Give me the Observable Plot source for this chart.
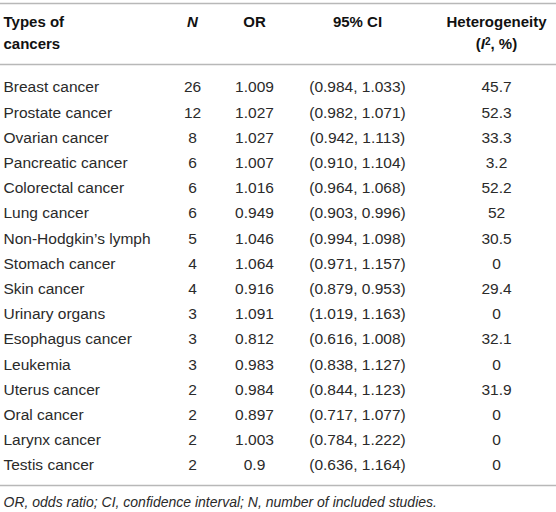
<!DOCTYPE html>
<html>
<head>
<meta charset="utf-8">
<script src="https://cdn.jsdelivr.net/npm/d3@7"></script>
<script src="https://cdn.jsdelivr.net/npm/@observablehq/plot@0.6"></script>
<style>
  html, body { margin: 0; padding: 0; background: #fff; }
  #chart svg { display: block; }
</style>
</head>
<body>
<div id="chart"></div>
<script>
// ---- data ----
const cancers = ["Breast cancer","Prostate cancer","Ovarian cancer","Pancreatic cancer","Colorectal cancer","Lung cancer","Non-Hodgkin\u2019s lymph","Stomach cancer","Skin cancer","Urinary organs","Esophagus cancer","Leukemia","Uterus cancer","Oral cancer","Larynx cancer","Testis cancer"];
const nStudies = [26,12,8,6,6,6,5,4,4,3,3,3,2,2,2,2];
const orValues = ["1.009","1.027","1.027","1.007","1.016","0.949","1.046","1.064","0.916","1.091","0.812","0.983","0.984","0.897","1.003","0.9"];
const ciLower = ["0.984","0.982","0.942","0.910","0.964","0.903","0.994","0.971","0.879","1.019","0.616","0.838","0.844","0.717","0.784","0.636"];
const ciUpper = ["1.033","1.071","1.113","1.104","1.068","0.996","1.098","1.157","0.953","1.163","1.008","1.127","1.123","1.077","1.222","1.164"];
const heterogeneity = ["45.7","52.3","33.3","3.2","52.2","52","30.5","0","29.4","0","32.1","0","31.9","0","0","0"];
const headerLine1 = ["Types of","N","OR","95% CI","Heterogeneity"];
const headerLine2 = ["cancers","","","","(I2, %)"];
const caption = "OR, odds ratio; CI, confidence interval; N, number of included studies.";

const rows = cancers.map((c, i) => ({
  row: i, cancer: c, n: String(nStudies[i]), or: orValues[i],
  ci: `(${ciLower[i]}, ${ciUpper[i]})`, het: heterogeneity[i]
}));

// ---- layout (style) ----
const colX = {cancer: 3, n: 192, or: 254, ci: 357, het: 496};
const font = "'Liberation Sans', Arial, Helvetica, sans-serif";
const bodyColor = "#2a2a2a";
const ruleColor = "#b8b8b8";
const last = rows.length - 1;
const bodySize = 15.5;

function col(key, anchor) {
  return Plot.text(rows, {
    y: "row", text: key, frameAnchor: "left", dx: colX[key],
    textAnchor: anchor, fill: bodyColor, fontSize: bodySize
  });
}
const headKeys = ["cancer","n","or","ci","het"];
function header(lines, dy) {
  return headKeys.map((k, j) => Plot.text([lines[j]], {
    y: () => 0, text: d => d, frameAnchor: "left", dx: colX[k], dy,
    textAnchor: j === 0 ? "start" : "middle", fill: "#111",
    fontSize: 15, fontWeight: "bold", fontStyle: j === 1 ? "italic" : "normal"
  }));
}

const chart = Plot.plot({
  width: 556, height: 512,
  margin: 0,
  style: {fontFamily: font, background: "#fff"},
  y: {domain: [0, last], range: [87, 465], axis: null},
  marks: [
    Plot.ruleY([0], {stroke: ruleColor, strokeWidth: 1.6, dy: -84}),
    Plot.ruleY([0], {stroke: ruleColor, strokeWidth: 1.6, dy: -23}),
    Plot.ruleY([last], {stroke: ruleColor, strokeWidth: 1.6, dy: 20}),
    ...header(headerLine1, -65),
    ...header(headerLine2, -43),
    col("cancer", "start"),
    col("n", "middle"),
    col("or", "middle"),
    col("ci", "middle"),
    col("het", "middle"),
    Plot.text([caption], {
      y: () => last, text: d => d, frameAnchor: "left", dx: 3, dy: 37,
      textAnchor: "start", fill: bodyColor, fontSize: 14, fontStyle: "italic"
    })
  ]
});

// superscript / italic formatting of "(I2, %)"
d3.select(chart).selectAll("text").each(function() {
  const el = d3.select(this);
  if (el.text() === "(I2, %)") {
    el.text(null);
    el.append("tspan").text("(");
    el.append("tspan").attr("font-style", "italic").text("I");
    el.append("tspan").attr("font-size", 10).attr("dy", "-0.45em").text("2");
    el.append("tspan").attr("dy", "0.3em").text(", %)");
  }
});

document.getElementById("chart").appendChild(chart);
</script>
</body>
</html>
